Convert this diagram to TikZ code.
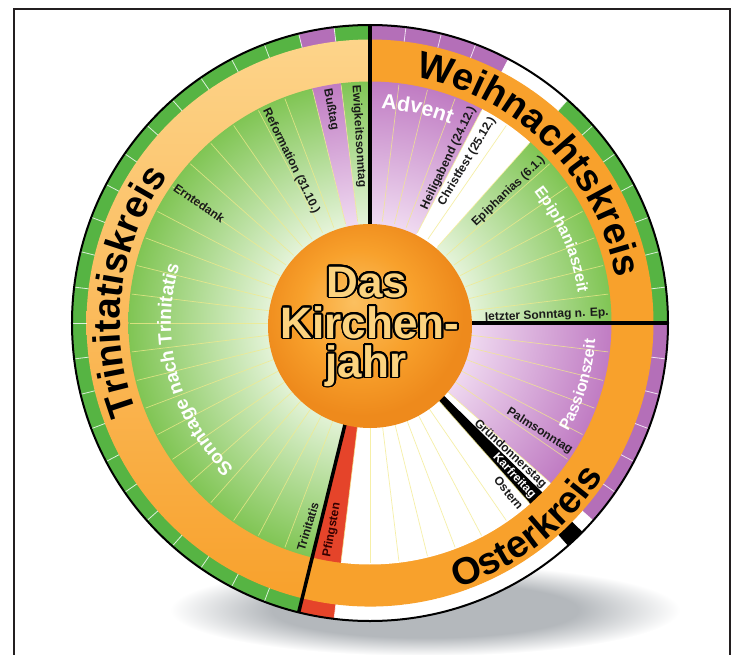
\documentclass[tikz,border=0pt]{standalone}
\usepackage{fontspec}
\setmainfont{Liberation Sans}
\usepackage[copies]{contour}
\usetikzlibrary{decorations.text}

\definecolor{grn}{HTML}{80C554}
\definecolor{grnin}{HTML}{E4F3D8}
\definecolor{lil}{HTML}{C07CC3}
\definecolor{lilin}{HTML}{EFD9F0}
\definecolor{bandgrn}{HTML}{56B443}
\definecolor{bandlil}{HTML}{B46FB8}
\definecolor{pfred}{HTML}{E5442A}
\definecolor{orng}{HTML}{F8A12C}
\definecolor{lightorng}{HTML}{FDD48A}
\definecolor{discin}{HTML}{FBC060}
\definecolor{discout}{HTML}{EE8A1C}
\definecolor{txtorng}{HTML}{FCD37F}
\definecolor{shd}{HTML}{B4B8BC}
\definecolor{framegray}{HTML}{231F20}
\definecolor{wline}{HTML}{F3EA8A}
\definecolor{outl}{HTML}{34343F}
\definecolor{lbltext}{HTML}{1A1A1A}

\pgfdeclareradialshading{greenwedge}{\pgfpointorigin}{color(0bp)=(grnin); color(10.5bp)=(grnin); color(25bp)=(grn); color(50bp)=(grn)}
\pgfdeclareradialshading{lilwedge}{\pgfpointorigin}{color(0bp)=(lilin); color(10.5bp)=(lilin); color(25bp)=(lil); color(50bp)=(lil)}
\pgfdeclareradialshading{discshade}{\pgfpoint{-4bp}{6bp}}{color(0bp)=(discin); color(14bp)=(orng); color(25bp)=(discout); color(50bp)=(discout)}
\pgfdeclareradialshading{shadowshade}{\pgfpointorigin}{color(0bp)=(shd); color(15bp)=(shd); color(25bp)=(white); color(50bp)=(white)}

\newcommand{\wk}[1]{90-(#1)*6.923077}
\newcommand{\sect}[4]{({\wk{#1}}:#3) arc[start angle={\wk{#1}}, end angle={\wk{#2}}, radius=#3] -- ({\wk{#2}}:#4) arc[start angle={\wk{#2}}, end angle={\wk{#1}}, radius=#4] -- cycle}

\newcommand{\kreisfont}{\bfseries\fontsize{38}{38}\selectfont}
\newcommand{\adventfont}{\bfseries\fontsize{21}{21}\selectfont\contourlength{1.3pt}\color{white}\contour{outl}}
\newcommand{\epifont}{\bfseries\fontsize{16}{16}\selectfont\contourlength{1.2pt}\color{white}\contour{outl}}
\newcommand{\sonntagfont}{\bfseries\fontsize{19}{19}\selectfont\contourlength{1.3pt}\color{white}\contour{outl}}
\newcommand{\passionfont}{\bfseries\fontsize{16}{16}\selectfont\contourlength{1.2pt}\color{white}\contour{outl}}
\contourlength{1pt}
\contournumber{24}

\tikzset{
  lbl/.style={font=\bfseries\fontsize{12}{12}\selectfont, text=lbltext, inner sep=0pt},
  mitte/.style={font=\bfseries\fontsize{44}{44}\selectfont\contourlength{1.8pt}, text=txtorng, inner sep=0pt, anchor=base},
  divider/.style={line width=3.5pt, black},
  weekline/.style={draw=wline, line width=0.7pt, opacity=0.75},
  bandtick/.style={draw=white, line width=0.8pt, opacity=0.8}
}

\begin{document}
\begin{tikzpicture}[x=1pt, y=1pt]
    \useasboundingbox (-370,-331) rectangle (369,323);
    \draw[framegray, line width=2.5pt] (-356,-340) -- (-356,314) -- (360,314) -- (360,-340);
    \shade[shading=shadowshade] (55,-287) ellipse (255 and 46);

    \foreach \a/\b/\c in {0/4/bandlil, 4/6/white, 6/13/bandgrn, 13/19/bandlil, 19/19.43/white, 19.43/20/black, 20/27/white, 27/28/pfred, 28/50/bandgrn, 50/51/bandlil, 51/52/bandgrn}
        \fill[\c] \sect{\a}{\b}{282}{298};
    \fill[orng] \sect{0}{28}{240}{283.5};
    \shade[top color=lightorng, bottom color=orng] \sect{28}{52}{240}{283.5};

    \begin{scope}
        \clip \sect{6}{13}{95}{241.5} \sect{28}{50}{95}{241.5} \sect{51}{52}{95}{241.5};
        \shade[shading=greenwedge] (0,0) circle (241.5);
    \end{scope}
    \begin{scope}
        \clip \sect{0}{4}{95}{241.5} \sect{13}{19}{95}{241.5} \sect{50}{51}{95}{241.5};
        \shade[shading=lilwedge] (0,0) circle (241.5);
    \end{scope}
    \fill[white] \sect{4}{6}{95}{241.5} \sect{19}{19.43}{95}{241.5} \sect{20}{27}{95}{241.5};
    \fill[black] \sect{19.43}{20}{95}{241.5};
    \fill[pfred] \sect{27}{28}{95}{241.5};

    \foreach \w in {1,...,51}{
        \draw[weekline] ({\wk{\w}}:102) -- ({\wk{\w}}:240);
        \draw[bandtick] ({\wk{\w}}:283.5) -- ({\wk{\w}}:298);
    }

    \draw[divider] (90:60) -- (90:298);
    \draw[divider] (0:60) -- (0:298);
    \draw[divider] ({\wk{28}}:60) -- ({\wk{28}}:298);
    \draw[line width=2pt] (0,0) circle (298);
    \shade[shading=discshade] (0,-3) circle (102);

    \node[mitte] (das) at (-3,26) {\contour{black}{Das}};
    \node[mitte] (kirchen) at (0,-15) {\contour{black}{Kirchen-}};
    \node[mitte] (jahr) at (-4,-54) {\contour{black}{jahr}};

    \path[decorate, decoration={text along path, text align=center, text={|\kreisfont|Weihnachtskreis}}] (85:250) arc[start angle=85, end angle=5, radius=250];
    \path[decorate, decoration={text along path, text align=center, text={|\kreisfont|Trinitatiskreis}}] (210:250) arc[start angle=210, end angle=135, radius=250];
    \path[decorate, decoration={text along path, text align=center, text={|\kreisfont|Osterkreis}}] (-80:279) arc[start angle=-80, end angle=-25, radius=279];

    \path[decorate, decoration={text along path, text align=center, text={|\adventfont|Advent}}] (100:214.5) arc[start angle=100, end angle=55, radius=214.5];
    \path[decorate, decoration={text along path, text align=center, text={|\epifont|Epiphaniaszeit}}] (45:210) arc[start angle=45, end angle=2, radius=210];
    \path[decorate, decoration={text along path, text align=center, text={|\sonntagfont|Sonntage nach Trinitatis}}] (240:199) arc[start angle=240, end angle=150, radius=199];
    \path[decorate, decoration={text along path, text align=center, text={|\passionfont|Passionszeit}}] (-35:226) arc[start angle=-35, end angle=2, radius=226];

    \node[lbl, anchor=west, rotate=-86.54] (ewig) at (93.46:238) {Ewigkeitssonntag};
    \node[lbl, anchor=west, rotate=-79.62] (busstag) at (100.38:238) {Bußtag};
    \node[lbl, anchor=west, rotate=-64] (reform) at (116:238) {Reformation (31.10.)};
    \node[lbl, anchor=west, rotate=-35] (ernte) at (145:238) {Erntedank};
    \node[lbl, anchor=west, rotate=73] (trini) at (253:238) {Trinitatis};
    \node[lbl, anchor=west, rotate=79.62, text=black!80!red] (pfingst) at (259.62:238) {Pfingsten};

    \node[lbl, anchor=east, rotate=64.5] (heilig) at (64.5:239) {Heiligabend (24.12.)};
    \node[lbl, anchor=east, rotate=59] (christ) at (59:239) {Christfest (25.12.)};
    \node[lbl, anchor=east, rotate=43.5] (epiph) at (43.5:239) {Epiphanias (6.1.)};
    \node[lbl, anchor=east, rotate=2.5] (letzter) at (2.5:239) {letzter Sonntag n. Ep.};
    \node[lbl, anchor=east, rotate=-32.5] (palm) at (-32.5:239) {Palmsonntag};
    \node[lbl, anchor=east, rotate=-43] (gruen) at (-43:239) {Gründonnerstag};
    \node[lbl, anchor=east, rotate=-46.7, text=white] (karfr) at (-46.7:239) {Karfreitag};
    \node[lbl, anchor=east, rotate=-50.8] (ostern) at (-50.8:239) {Ostern};
\end{tikzpicture}
\end{document}
